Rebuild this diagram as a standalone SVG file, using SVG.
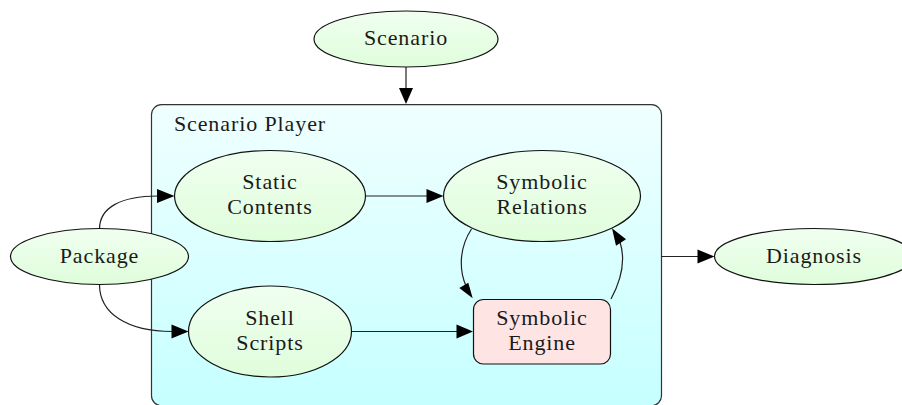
<svg xmlns="http://www.w3.org/2000/svg" width="902" height="405" viewBox="0 0 902 405">
<style>
text{font-family:"Liberation Serif","Times New Roman",serif;font-size:22px;fill:#1a1a1a;text-anchor:middle;letter-spacing:.9px}
.n{stroke:#111;stroke-width:1.2;fill:url(#g)}
.c{fill:none;stroke:#222;stroke-width:1.2}
.h{fill:#000;stroke:none}
</style>
<defs>
<linearGradient id="g" x1="0" y1="0" x2="0" y2="1"><stop offset="0" stop-color="#f0fff0"/><stop offset="1" stop-color="#dffddb"/></linearGradient>
<linearGradient id="p" x1="0" y1="0" x2="0" y2="1"><stop offset="0" stop-color="#f0ffff"/><stop offset="1" stop-color="#c6ffff"/></linearGradient>
</defs>
<g id="player"><rect x="151.500" y="104.700" width="510" height="301" rx="10" fill="url(#p)" stroke="#333" stroke-width="1.2"/><text x="250" y="130.500">Scenario Player</text></g>
<g id="connectors">
<path class="c" d="M406 67V90M365.500 196H428M351 331.500H458M661 256.500H698"/>
<path class="c" d="M99.500 229C99.500 208 120 196 158 196"/>
<path class="c" d="M99.500 284.500C99.500 314 128 331.500 172 331.500"/>
<path class="c" d="M471.500 229C459 248 459 270 466 286"/>
<path class="c" d="M611 299C623 277 625 258 620 242"/>
<path class="h" d="M406 104L399 88H413Z"/>
<path class="h" d="M174.500 196L157 189V203Z"/>
<path class="h" d="M188.500 331.500L171.500 324.500V338.500Z"/>
<path class="h" d="M443.500 196L426.500 189V203Z"/>
<path class="h" d="M473 331.500L456.500 324.500V338.500Z"/>
<path class="h" d="M714.500 256.500L697.500 249.500V263.500Z"/>
<path class="h" d="M472.700 298.300L459.300 288L468.300 282.700Z"/>
<path class="h" d="M612 228.300L626 239.300L616 245.700Z"/>
</g>
<g id="scenario"><ellipse class="n" cx="406" cy="39" rx="92" ry="28"/><text x="406" y="44.500">Scenario</text></g>
<g id="static"><ellipse class="n" cx="270" cy="196" rx="95.500" ry="45.500"/><text x="270" y="188.500">Static</text><text x="270" y="213.500">Contents</text></g>
<g id="package"><ellipse class="n" cx="99.500" cy="256.500" rx="89" ry="28"/><text x="99.500" y="262.500">Package</text></g>
<g id="shell"><ellipse class="n" cx="270" cy="331.500" rx="81.500" ry="45.500"/><text x="270" y="324.500">Shell</text><text x="270" y="349.500">Scripts</text></g>
<g id="relations"><ellipse class="n" cx="542" cy="196" rx="98.500" ry="45.500"/><text x="542" y="188.500">Symbolic</text><text x="542" y="213.500">Relations</text></g>
<g id="engine"><rect x="473.500" y="299.500" width="137" height="64.500" rx="10" fill="#ffe4e4" stroke="#111" stroke-width="1.200"/><text x="542" y="324.500">Symbolic</text><text x="542" y="349.500">Engine</text></g>
<g id="diagnosis"><ellipse class="n" cx="814" cy="256.500" rx="99.500" ry="28"/><text x="814" y="262.500">Diagnosis</text></g>
</svg>
